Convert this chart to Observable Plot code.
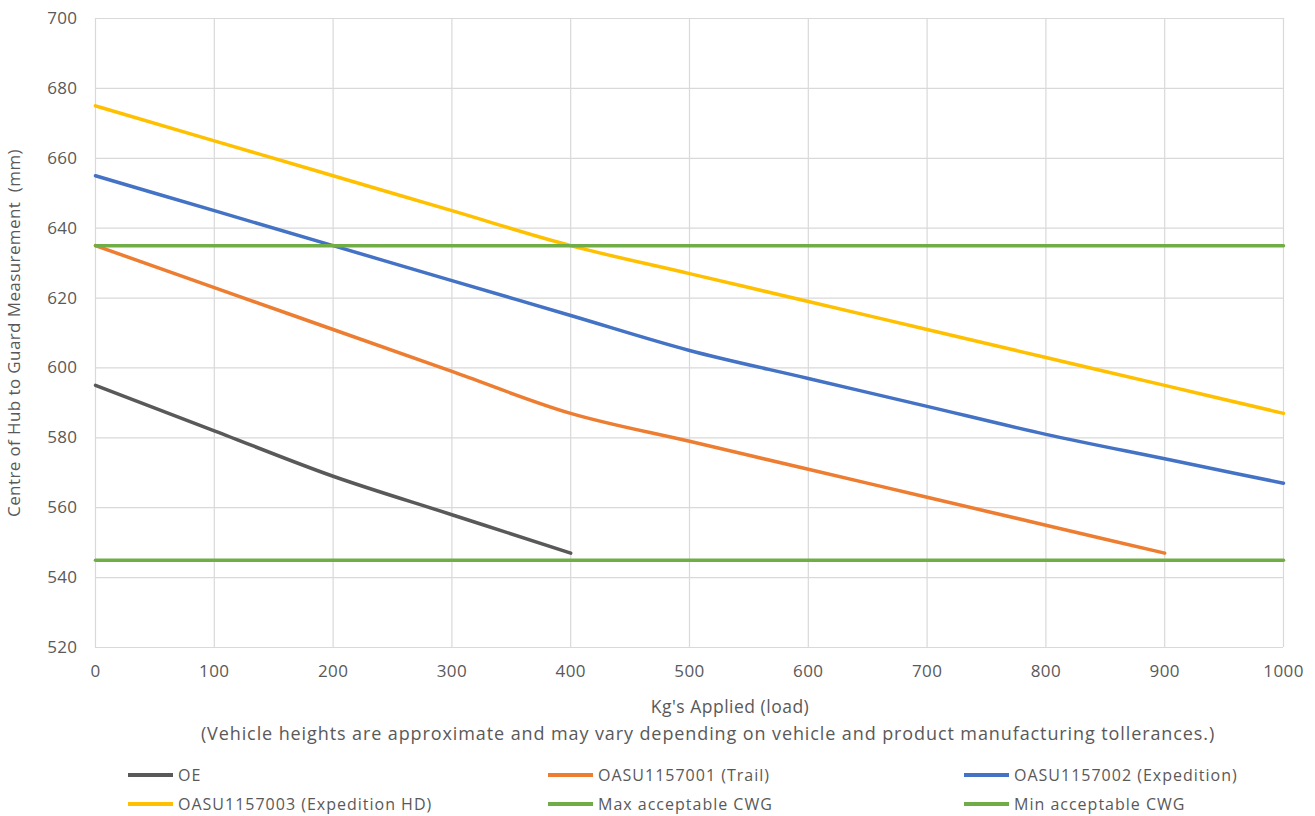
<!DOCTYPE html>
<html>
<head>
<meta charset="utf-8">
<script src="https://cdn.jsdelivr.net/npm/d3@7"></script>
<script src="https://cdn.jsdelivr.net/npm/@observablehq/plot@0.6"></script>
<style>
  body { margin: 0; background: #fff; font-family: "Open Sans", sans-serif; color: #595959; }
  #wrap { position: relative; width: 1315px; height: 816px; }
  .txt { position: absolute; white-space: nowrap; height: 24px; line-height: 24px; transform: translateX(-50%); }
  #xtitle { font-size: 17.5px; letter-spacing: 0.5px; }
  #caption { font-size: 18px; letter-spacing: 0.9px; }
  .lg { position: absolute; font-size: 16px; letter-spacing: 1px; display: flex; align-items: center; white-space: nowrap; height: 24px; line-height: 24px; }
  .sw { display: inline-block; width: 45px; height: 4px; margin-right: 5px; }
</style>
</head>
<body>
<div id="wrap">
  <div id="chart"></div>
  <div id="xtitle" class="txt"></div>
  <div id="caption" class="txt"></div>
  <div id="legend"></div>
</div>
<script>
const seriesNames = ["OE", "OASU1157001 (Trail)", "OASU1157002 (Expedition)", "OASU1157003 (Expedition HD)", "Max acceptable CWG", "Min acceptable CWG"];
const seriesColors = ["#595959", "#ED7D31", "#4472C4", "#FFC000", "#70AD47", "#70AD47"];

const oeX = [0, 100, 200, 300, 400];
const oeY = [595, 582, 569, 558, 547];
const trailX = [0, 100, 200, 300, 400, 500, 600, 700, 800, 900];
const trailY = [635, 623, 611, 599, 587, 579, 571, 563, 555, 547];
const expX = [0, 100, 200, 300, 400, 500, 600, 700, 800, 900, 1000];
const expY = [655, 645, 635, 625, 615, 605, 597, 589, 581, 574, 567];
const hdX = [0, 100, 200, 300, 400, 500, 600, 700, 800, 900, 1000];
const hdY = [675, 665, 655, 645, 635, 627, 619, 611, 603, 595, 587];
const maxX = [0, 1000];
const maxY = [635, 635];
const minX = [0, 1000];
const minY = [545, 545];

const xTicks = [0, 100, 200, 300, 400, 500, 600, 700, 800, 900, 1000];
const yTicks = [520, 540, 560, 580, 600, 620, 640, 660, 680, 700];

const xTitle = "Kg's Applied (load)";
const yTitle = "Centre of Hub to Guard Measurement  (mm)";
const captionText = "(Vehicle heights are approximate and may vary depending on vehicle and product manufacturing tollerances.)";

const seriesXs = [oeX, trailX, expX, hdX, maxX, minX];
const seriesYs = [oeY, trailY, expY, hdY, maxY, minY];
const data = [];
seriesNames.forEach((s, i) => {
  seriesXs[i].forEach((x, j) => data.push({series: s, x, y: seriesYs[i][j]}));
});

const chart = Plot.plot({
  width: 1315,
  height: 690,
  marginLeft: 95,
  marginRight: 32,
  marginTop: 18,
  marginBottom: 43,
  style: {fontFamily: "'Open Sans', sans-serif", fontSize: "17px", color: "#595959", background: "#fff", letterSpacing: "0.4px"},
  x: {domain: [0, 1000]},
  y: {domain: [520, 700]},
  color: {domain: seriesNames, range: seriesColors},
  marks: [
    Plot.gridX(xTicks, {stroke: "#d9d9d9", strokeOpacity: 1, strokeWidth: 1.2}),
    Plot.gridY(yTicks, {stroke: "#d9d9d9", strokeOpacity: 1, strokeWidth: 1.2}),
    Plot.axisX(xTicks, {tickSize: 0, tickPadding: 17, tickFormat: d => String(d), label: null, fill: "#595959"}),
    Plot.axisY(yTicks, {tickSize: 0, tickPadding: 18, tickFormat: d => String(d), label: yTitle, labelAnchor: "center", labelArrow: "none", labelOffset: 88, fill: "#595959"}),
    Plot.line(data, {x: "x", y: "y", z: "series", stroke: "series", strokeWidth: 3.5, curve: "monotone-x"})
  ]
});
document.getElementById("chart").appendChild(chart);

const xt = document.getElementById("xtitle");
xt.textContent = xTitle;
xt.style.left = "730px";
xt.style.top = (706 - 12) + "px";
const cap = document.getElementById("caption");
cap.textContent = captionText;
cap.style.left = "708px";
cap.style.top = (733 - 12) + "px";

const legendPos = [[128, 775], [548, 775], [964, 775], [128, 804], [548, 804], [964, 804]];
const lg = document.getElementById("legend");
seriesNames.forEach((s, i) => {
  const d = document.createElement("div");
  d.className = "lg";
  d.style.left = legendPos[i][0] + "px";
  d.style.top = (legendPos[i][1] - 12) + "px";
  const sw = document.createElement("span");
  sw.className = "sw";
  sw.style.background = seriesColors[i];
  d.appendChild(sw);
  d.appendChild(document.createTextNode(s));
  lg.appendChild(d);
});
</script>
</body>
</html>
